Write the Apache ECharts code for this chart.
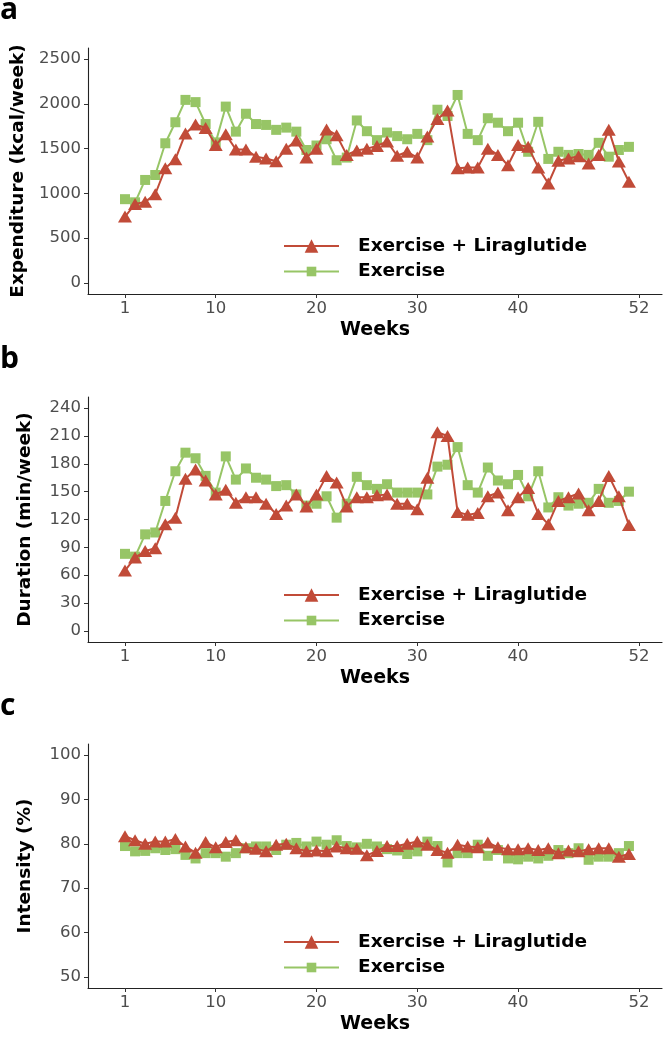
<!DOCTYPE html>
<html>
<head>
<meta charset="utf-8">
<script src="https://cdn.jsdelivr.net/npm/echarts@6.0.0/dist/echarts.min.js"></script>
<style>
html,body{margin:0;padding:0;background:#fff;}
#chart{width:665px;height:1037px;}
</style>
</head>
<body>
<div id="chart"></div>
<script>
// ---- data ----
const weeks = [1,2,3,4,5,6,7,8,9,10,11,12,13,14,15,16,17,18,19,20,21,22,23,24,25,26,27,28,29,30,31,32,33,34,35,36,37,38,39,40,41,42,43,44,45,46,47,48,49,50,51];
const weekTicks = [1,10,20,30,40,52];
const seriesNames = ['Exercise + Liraglutide','Exercise'];
const panelLetters = ['a','b','c'];
const yTitles = ['Expenditure (kcal/week)','Duration (min/week)','Intensity (%)'];

const expenditureLira = [740,880,905,990,1280,1380,1670,1770,1730,1540,1660,1490,1490,1410,1390,1360,1500,1590,1400,1500,1715,1650,1430,1480,1500,1530,1580,1420,1465,1400,1635,1830,1925,1280,1290,1290,1500,1430,1315,1540,1520,1290,1110,1365,1390,1415,1335,1430,1710,1355,1130];
const expenditureEx = [935,900,1150,1205,1560,1795,2045,2020,1775,1570,1970,1690,1890,1775,1765,1710,1735,1690,1485,1535,1605,1370,1400,1815,1695,1595,1680,1640,1605,1665,1595,1935,1865,2100,1665,1595,1840,1790,1695,1790,1465,1800,1385,1465,1430,1440,1430,1565,1410,1485,1520];
const expenditureTicks = [0,500,1000,1500,2000,2500];

const durationLira = [65,79,86,89,115,122,164,174,162,147,152,138,144,144,137,126,135,147,134,147,167,160,134,144,144,146,147,137,137,131,165,214,210,128,125,127,145,149,130,144,154,126,115,140,144,148,130,140,167,145,114];
const durationEx = [83,80,104,106,140,172,192,186,167,149,188,163,175,165,163,156,157,147,135,137,145,122,137,166,157,153,158,149,149,149,147,177,179,198,157,149,176,162,158,168,145,172,133,144,135,137,138,153,138,140,150];
const durationTicks = [0,30,60,90,120,150,180,210,240];

const intensityLira = [81.7,80.8,80.0,80.5,80.5,81.1,79.4,78.0,80.4,79.2,80.4,80.8,79.2,78.9,78.3,79.8,80.0,79.0,78.3,78.5,78.3,79.4,79.0,78.9,77.4,78.4,79.5,79.5,80.0,80.5,79.8,78.6,78.0,79.8,79.4,79.2,80.3,79.2,78.8,78.8,79.0,78.6,79.0,77.9,78.5,78.3,78.8,79.0,79.0,77.1,77.7];
const intensityEx = [79.5,78.3,78.4,79.0,78.6,78.8,77.5,76.7,77.9,77.9,77.1,77.9,79.0,79.4,79.4,78.6,79.8,80.2,79.4,80.5,79.8,80.8,79.5,79.2,80.0,79.4,78.8,78.5,77.7,78.3,80.5,79.5,75.8,77.9,77.9,79.8,77.3,78.6,76.7,76.5,77.1,76.7,77.3,78.6,77.9,79.0,76.4,77.1,77.1,77.9,79.5];
const intensityTicks = [50,60,70,80,90,100];

// ---- layout / style ----
const RED = '#C14B38', GREEN = '#97C566';
const FONT = '"DejaVu Sans", Verdana, sans-serif';
const panels = [
  {top:48, height:246, min:-125, max:2625, ticks:expenditureTicks, lira:expenditureLira, ex:expenditureEx},
  {top:397, height:245, min:-12, max:252, ticks:durationTicks, lira:durationLira, ex:durationEx},
  {top:744, height:244, min:47.5, max:102.5, ticks:intensityTicks, lira:intensityLira, ex:intensityEx}
];
const pair = (arr) => weeks.map((w,i)=>[w, arr[i]]);
const plain = (v) => String(v);

const grid = [], xAxis = [], yAxis = [], series = [], legend = [], title = [];
panels.forEach((p,i)=>{
  grid.push({left:88, top:p.top, width:574, height:p.height});
  title.push({text:panelLetters[i], left:0, top:p.top-53, padding:0,
    textStyle:{fontFamily:'"Open Sans", "Liberation Sans", sans-serif', fontSize:30, fontWeight:'bold', color:'#000'}});
  xAxis.push({type:'value', gridIndex:i, min:-2.67, max:54.28,
    name:'Weeks', nameLocation:'middle', nameGap:27,
    nameTextStyle:{fontFamily:FONT, fontSize:19, fontWeight:'bold', color:'#000'},
    axisLine:{onZero:false, lineStyle:{color:'#222', width:1.1}},
    axisTick:{customValues:weekTicks, length:4, lineStyle:{color:'#333', width:1}},
    axisLabel:{customValues:weekTicks, formatter:plain, fontFamily:FONT, fontSize:16.5, color:'#4d4d4d', margin:6},
    splitLine:{show:false}});
  yAxis.push({type:'value', gridIndex:i, min:p.min, max:p.max,
    name:yTitles[i], nameLocation:'middle', nameRotate:90, nameGap:53,
    nameTextStyle:{fontFamily:FONT, fontSize:18.5, fontWeight:'bold', color:'#000'},
    axisLine:{show:true, onZero:false, lineStyle:{color:'#222', width:1.1}},
    axisTick:{show:true, customValues:p.ticks, length:4, lineStyle:{color:'#333', width:1}},
    axisLabel:{customValues:p.ticks, formatter:plain, fontFamily:FONT, fontSize:16.5, color:'#4d4d4d', margin:7},
    splitLine:{show:false}});
  series.push({name:seriesNames[1], type:'line', xAxisIndex:i, yAxisIndex:i, data:pair(p.ex),
    symbol:'rect', symbolSize:10, lineStyle:{color:GREEN, width:2}, itemStyle:{color:GREEN},
    z:2, emphasis:{disabled:true}});
  series.push({name:seriesNames[0], type:'line', xAxisIndex:i, yAxisIndex:i, data:pair(p.lira),
    symbol:'triangle', symbolSize:[14,12], lineStyle:{color:RED, width:2}, itemStyle:{color:RED},
    z:3, emphasis:{disabled:true}});
  const ts = {fontFamily:FONT, fontSize:18.5, fontWeight:'bold', color:'#000', padding:[0,0,0,14]};
  legend.push({data:[seriesNames[0]], left:283, top:p.top+197-8.5, itemWidth:55, itemHeight:17,
    selectedMode:false, padding:0, textStyle:ts});
  legend.push({data:[seriesNames[1]], left:283, top:p.top+220-6, itemWidth:55, itemHeight:12,
    selectedMode:false, padding:0, textStyle:ts});
});

const chart = echarts.init(document.getElementById('chart'), null, {renderer:'canvas'});
chart.setOption({animation:false, backgroundColor:'#fff', title, grid, xAxis, yAxis, legend, series});
</script>
</body>
</html>
